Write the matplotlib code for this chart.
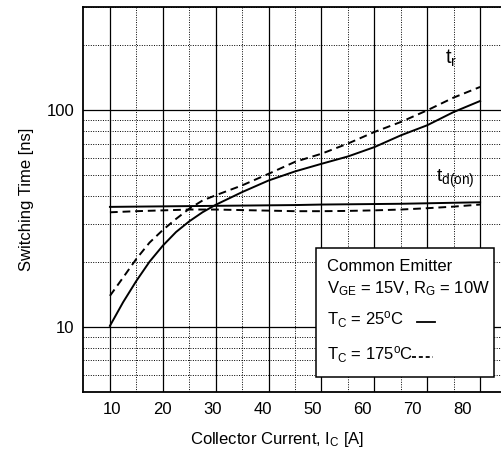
import matplotlib
matplotlib.use("Agg")
import matplotlib.pyplot as plt
from matplotlib.patches import Rectangle
from matplotlib.lines import Line2D
from matplotlib.ticker import FixedLocator, LogLocator, NullFormatter

plt.rcParams['font.family'] = ['Liberation Sans', 'DejaVu Sans']
plt.rcParams['mathtext.default'] = 'regular'

# collector current [A] for the rise-time curves (denser where they bend)
current_tr = [10, 12.5, 15, 17.5, 20, 22.5, 25, 27.5, 30, 35, 40, 45, 50, 55, 60, 65, 70, 75, 80]
# rise time t_r [ns]
tr_25 = [10.1, 13.0, 16.3, 20.0, 23.7, 27.4, 30.7, 33.8, 36.6, 41.9, 47.4, 52.2, 56.6,
         61.2, 67.6, 76.6, 85.3, 98.2, 110.4]
tr_175 = [13.9, 16.9, 20.6, 24.5, 28.0, 31.5, 35.1, 38.3, 40.5, 45.0, 50.9, 57.8, 63.0,
          70.2, 79.4, 88.3, 100.0, 114.5, 128.2]

# collector current [A] for the turn-on delay curves
current_td = [10, 15, 20, 25, 30, 35, 40, 45, 50, 55, 60, 65, 70, 75, 80]
# turn-on delay t_d(on) [ns]
td_25 = [35.8, 35.9, 36.0, 36.1, 36.2, 36.3, 36.4, 36.5, 36.7, 36.8, 36.9, 37.0, 37.2, 37.4, 37.6]
td_175 = [33.8, 34.2, 34.5, 34.8, 34.8, 34.6, 34.4, 34.2, 34.2, 34.3, 34.5, 34.8, 35.3, 35.9, 36.7]

x_ticks = [10, 20, 30, 40, 50, 60, 70, 80]
x_minor = [15, 25, 35, 45, 55, 65, 75, 85]
y_ticks = [10, 100]

fig = plt.figure(figsize=(5.02, 4.54), dpi=100)
ax = fig.add_axes([0.1663, 0.1366, 0.8428, 0.848])

ax.set_yscale('log')
ax.set_xlim(5, 85)
ax.set_ylim(5, 300)

# grid: solid at majors, dotted at minors
for xv in x_ticks:
    ax.axvline(xv, color='k', lw=0.9, zorder=1)
ax.xaxis.set_minor_locator(FixedLocator(x_minor))
ax.yaxis.set_major_locator(FixedLocator(y_ticks))
ax.yaxis.set_minor_locator(LogLocator(base=10, subs=range(2, 10)))
ax.yaxis.set_minor_formatter(NullFormatter())
ax.yaxis.grid(True, which='major', color='k', lw=0.9)
ax.grid(True, which='minor', color='k', lw=0.7, ls=(0, (1, 1.5)))
ax.set_axisbelow(True)

# tick labels sit slightly left of the grid lines in the original
ax.set_xticks([10.39 + (t - 10) * 0.948 for t in x_ticks], [str(t) for t in x_ticks])
ax.set_yticks(y_ticks, ['10', '100'])
ax.tick_params(which='both', length=0, labelsize=12)
ax.tick_params(axis='x', pad=7.5)
ax.tick_params(axis='y', pad=6.5)

for s in ax.spines.values():
    s.set_linewidth(1.3)

kw = dict(color='k', lw=1.4, zorder=3, solid_joinstyle='round')
ax.plot(current_tr, tr_25, **kw)
ax.plot(current_tr, tr_175, ls=(0, (4, 2.5)), **kw)
ax.plot(current_td, td_25, **kw)
ax.plot(current_td, td_175, ls=(0, (4, 2.5)), **kw)

ax.text(73.4, 165, 't$_r$', fontsize=14.5, va='baseline')
ax.text(71.6, 46.4, 't$_{d(on)}$', fontsize=14, va='baseline')

ax.set_xlabel('Collector Current, I$_C$ [A]', fontsize=12)
ax.set_ylabel('Switching Time [ns]', fontsize=12)
ax.xaxis.set_label_coords(0.4585, -0.099)
ax.yaxis.set_label_coords(-0.117, 0.5)

# condition box
tr = ax.transAxes
ax.add_patch(Rectangle((0.5495, 0.039), 0.4205, 0.335, transform=tr,
                       facecolor='white', edgecolor='k', lw=1.1, zorder=5))
ax.text(0.5755, 0.314, 'Common Emitter', transform=tr, fontsize=12, va='baseline', zorder=6)
ax.text(0.5755, 0.257, 'V$_{GE}$ = 15V, R$_G$ = 10W', transform=tr, fontsize=12,
        va='baseline', zorder=6)
ax.text(0.5755, 0.174, 'T$_C$ = 25$^o$C', transform=tr, fontsize=12, va='baseline', zorder=6)
ax.text(0.5755, 0.083, 'T$_C$ = 175$^o$C', transform=tr, fontsize=12, va='baseline', zorder=6)
ax.add_line(Line2D([0.788, 0.831], [0.182, 0.182], transform=tr, color='k', lw=1.3, zorder=6))
ax.add_line(Line2D([0.776, 0.826], [0.091, 0.091], transform=tr, color='k', lw=1.3,
                   ls=(0, (2.2, 1.6)), zorder=6))

fig.savefig('out.png', dpi=100)
